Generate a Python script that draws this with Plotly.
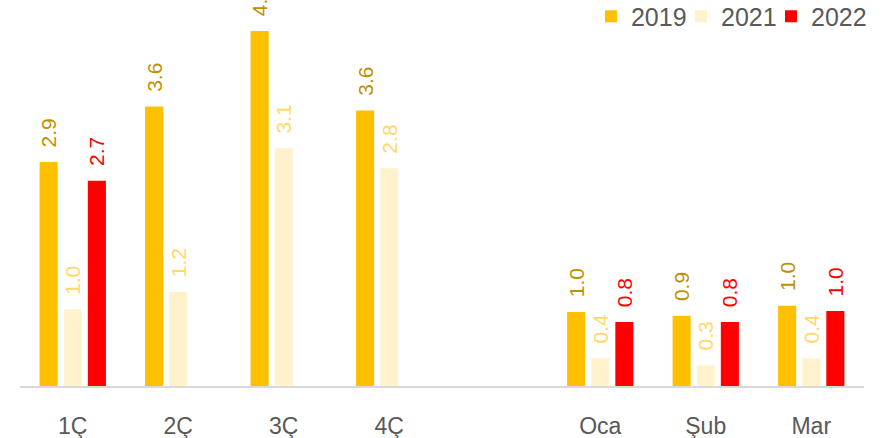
import plotly.graph_objects as go

categories = ["1Ç", "2Ç", "3Ç", "4Ç", " ", "Oca", "Şub", "Mar"]
series_names = ["2019", "2021", "2022"]
v2019 = [2.9, 3.62, 4.6, 3.57, None, 0.96, 0.91, 1.04]
v2021 = [0.99, 1.22, 3.08, 2.82, None, 0.36, 0.27, 0.36]
v2022 = [2.66, None, None, None, None, 0.83, 0.83, 0.97]

bar_colors = ["#FFC000", "#FFF2CC", "#FF0000"]
label_colors = ["#BF9000", "#FFD966", "#FF0000"]
legend_ids = ["legend", "legend2", "legend3"]
legend_x = [0.6765, 0.7832, 0.8898]
FONT = "Liberation Sans"

fig = go.Figure()
for name, vals, bc, lc, lid in zip(series_names, [v2019, v2021, v2022], bar_colors, label_colors, legend_ids):
    fig.add_trace(go.Bar(
        x=categories, y=vals, name=name, legend=lid,
        marker=dict(color=bc, line=dict(width=0)),
        texttemplate="\u00a0\u00a0%{y:.1f}",
        textposition="outside",
        textangle=-90,
        constraintext="none",
        cliponaxis=False,
        textfont=dict(family=FONT, size=21, color=lc),
        hoverinfo="skip",
    ))

legend_style = dict(orientation="h", xanchor="left", y=1.017, yanchor="top",
                    font=dict(family=FONT, size=25, color="#595959"),
                    bgcolor="rgba(0,0,0,0)")
fig.update_layout(
    width=894, height=438,
    margin=dict(l=20, r=30, t=0, b=52, autoexpand=False),
    paper_bgcolor="white", plot_bgcolor="white",
    barmode="group", bargap=0.314, bargroupgap=0.25,
    showlegend=True,
    legend=dict(x=legend_x[0], **legend_style),
    legend2=dict(x=legend_x[1], **legend_style),
    legend3=dict(x=legend_x[2], **legend_style),
    xaxis=dict(showline=True, linecolor="#D9D9D9", linewidth=2, ticks="",
               showgrid=False, automargin=False,
               tickfont=dict(family=FONT, size=23, color="#595959"),
               ticklabelstandoff=18),
    yaxis=dict(range=[0, 5], visible=False, showgrid=False, automargin=False),
)

fig.write_html("out.html", config={"displayModeBar": False},
               post_script="document.body.style.margin='0px';document.body.style.overflow='hidden';")
